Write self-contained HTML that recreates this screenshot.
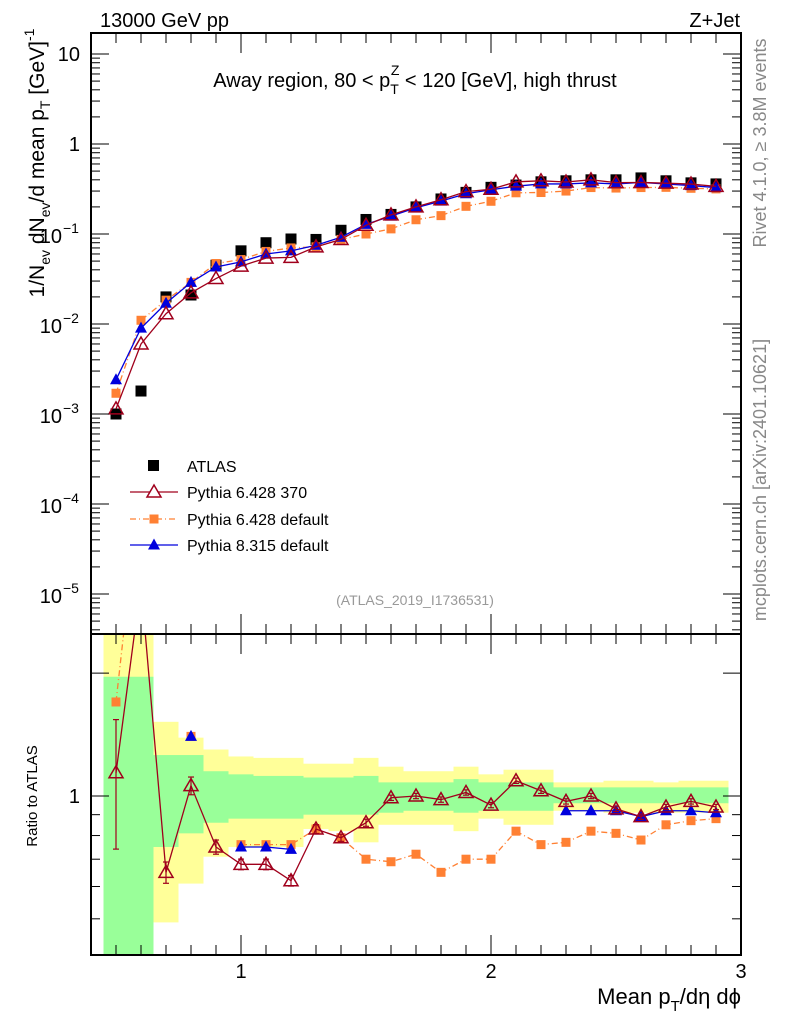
<!DOCTYPE html>
<html><head><meta charset="utf-8"><style>
html,body{margin:0;padding:0;background:#fff}
svg{display:block;font-family:"Liberation Sans",sans-serif}
</style></head><body>
<svg id="c" width="786" height="1024" viewBox="0 0 786 1024"></svg>
<script>
const xs=[0.5,0.6,0.7,0.8,0.9,1.0,1.1,1.2,1.3,1.4,1.5,1.6,1.7,1.8,1.9,2.0,2.1,2.2,2.3,2.4,2.5,2.6,2.7,2.8,2.9];
const atlas=[1e-3,1.8e-3,0.02,0.021,0.045,0.065,0.08,0.088,0.087,0.11,0.145,0.165,0.2,0.245,0.29,0.33,0.35,0.38,0.39,0.4,0.4,0.42,0.39,0.37,0.36];
const py6_370=[1.14e-3,6e-3,0.013,0.0222,0.032,0.044,0.054,0.055,0.072,0.087,0.125,0.163,0.2,0.24,0.296,0.314,0.38,0.39,0.378,0.4,0.372,0.374,0.367,0.359,0.338];
const py6_370_err=[0.35,0.1,0.06,0.05,0.04,0.03,0.03,0.03,0.025,0.02,0.02,0.015,0.015,0.015,0.015,0.015,0.015,0.015,0.015,0.015,0.015,0.015,0.015,0.015,0.015];
const py6_def=[1.7e-3,0.011,0.0184,0.029,0.047,0.052,0.064,0.07,0.072,0.087,0.10,0.114,0.144,0.16,0.203,0.231,0.287,0.289,0.30,0.328,0.324,0.328,0.33,0.322,0.317];
const py8_def=[2.4e-3,9e-3,0.017,0.029,0.043,0.049,0.06,0.065,0.075,0.092,0.128,0.158,0.196,0.232,0.28,0.31,0.34,0.36,0.36,0.37,0.36,0.374,0.36,0.345,0.328];
// ratio-panel values (null = not shown)
const ratio_py6_370=[1.14,3.3,0.65,1.06,0.75,0.68,0.68,0.62,0.83,0.79,0.86,0.99,1.0,0.98,1.02,0.95,1.09,1.03,0.97,1.0,0.93,0.89,0.94,0.97,0.94];
const ratio_py6_def=[1.7,6,null,1.4,null,0.76,0.76,0.76,0.83,0.79,0.70,0.69,0.72,0.65,0.70,0.70,0.82,0.76,0.77,0.82,0.81,0.78,0.85,0.87,0.88];
const ratio_py8_def=[2.6,5,null,1.4,null,0.75,0.75,0.74,null,null,null,null,null,null,null,null,null,null,0.92,0.92,0.92,0.89,0.92,0.92,0.91];
const binEdges=[0.45,0.65,0.75,0.85,0.95,1.05,1.15,1.25,1.35,1.45,1.55,1.65,1.75,1.85,1.95,2.05,2.15,2.25,2.35,2.45,2.55,2.65,2.75,2.85,2.95];
const greenLo=[0.3,0.75,0.81,0.86,0.88,0.88,0.88,0.9,0.9,0.9,0.91,0.92,0.92,0.91,0.92,0.92,0.92,0.96,0.96,0.96,0.96,0.96,0.96,0.96];
const greenHi=[1.96,1.26,1.26,1.15,1.13,1.12,1.12,1.11,1.11,1.12,1.08,1.08,1.08,1.10,1.08,1.08,1.08,1.05,1.05,1.05,1.05,1.05,1.05,1.05];
const yelLo=[0.3,0.49,0.61,0.71,0.75,0.75,0.75,0.83,0.82,0.77,0.85,0.85,0.85,0.82,0.88,0.85,0.85,0.92,0.92,0.91,0.91,0.91,0.91,0.91];
const yelHi=[3,1.52,1.39,1.30,1.25,1.24,1.24,1.2,1.2,1.24,1.18,1.15,1.15,1.18,1.13,1.16,1.16,1.08,1.08,1.09,1.09,1.08,1.09,1.09];
const yTicks=[10,1,0.1,0.01,0.001,1e-4,1e-5];
const yTickLabels=["10","1","10|−1","10|−2","10|−3","10|−4","10|−5"];
const xTicks=[1,2,3];

const NS="http://www.w3.org/2000/svg";
const svg=document.getElementById('c');
const L=91,R=741,T=33,MB=634,RB=955;
const X=v=>L+(v-0.4)*250;
const Y=v=>54-(Math.log10(v)-1)*90;
const RY=v=>796-Math.log10(v)*408;
function el(tag,at,parent){const e=document.createElementNS(NS,tag);for(const k in at)e.setAttribute(k,at[k]);(parent||svg).appendChild(e);return e;}
const defs=el('defs',{});
const cp1=el('clipPath',{id:'cm'},defs);el('rect',{x:L,y:T,width:R-L,height:MB-T},cp1);
const cp2=el('clipPath',{id:'cr'},defs);el('rect',{x:L,y:MB,width:R-L,height:RB-MB},cp2);

const gBands=el('g',{'clip-path':'url(#cr)'});


for(let i=0;i<greenLo.length;i++){
  const x0=X(binEdges[i]),x1=X(binEdges[i+1]);
  const y=el('rect',{x:x0,y:RY(yelHi[i]),width:x1-x0,height:RY(yelLo[i])-RY(yelHi[i]),fill:'#ffff99'},gBands);
  
  
  const g=el('rect',{x:x0,y:RY(greenHi[i]),width:x1-x0,height:RY(greenLo[i])-RY(greenHi[i]),fill:'#99ff99'},gBands);
  
  
}

function marker(g,type,x,y,color){
  if(type==='sq')return el('rect',{x:x-5.5,y:y-5.5,width:11,height:11,fill:color},g);
  if(type==='osq')return el('rect',{x:x-4.5,y:y-4.5,width:9,height:9,fill:color},g);
  if(type==='tri')return el('polygon',{points:`${x},${y-6.5} ${x-6},${y+4.5} ${x+6},${y+4.5}`,fill:color},g);
  if(type==='otri')return el('polygon',{points:`${x},${y-7} ${x-7},${y+5} ${x+7},${y+5}`,fill:'none',stroke:color,'stroke-width':1.5},g);
}
function series(name,vals,color,type,dash,clip,yf,errs){
  const g=el('g',{'clip-path':clip});
  
  
  if(dash!==null){
    let seg=[];
    const flush=()=>{if(seg.length>1){const ln=el('polyline',{points:seg.join(' '),fill:'none',stroke:color,'stroke-width':1.3},g);if(dash)ln.setAttribute('stroke-dasharray',dash);}seg=[];};
    xs.forEach((x,i)=>{if(vals[i]==null)flush();else seg.push(X(x)+','+yf(vals[i]));});
    flush();
  }
  xs.forEach((x,i)=>{
    if(vals[i]==null)return;
    if(errs){const y0=yf(vals[i]*(1+errs[i])),y1=yf(vals[i]*(1-errs[i]));
      el('line',{x1:X(x),x2:X(x),y1:y0,y2:y1,stroke:color,'stroke-width':1.2},g);
      el('line',{x1:X(x)-3,x2:X(x)+3,y1:y0,y2:y0,stroke:color,'stroke-width':1.2},g);
      el('line',{x1:X(x)-3,x2:X(x)+3,y1:y1,y2:y1,stroke:color,'stroke-width':1.2},g);}
    const m=marker(g,type,X(x),yf(vals[i]),color);
    
    
  });
}
series('ratio-pythia6-default',ratio_py6_def,'#ff8033','osq','6,3,1,3','url(#cr)',RY,null);
series('ratio-pythia8',ratio_py8_def,'#0000dd','tri','','url(#cr)',RY,null);
series('ratio-pythia6-370',ratio_py6_370,'#a0001c','otri','','url(#cr)',RY,py6_370_err);
series('atlas-data',atlas,'#000','sq',null,'url(#cm)',Y,null);
series('pythia6-default',py6_def,'#ff8033','osq','6,3,1,3','url(#cm)',Y,null);
series('pythia8-default',py8_def,'#0000dd','tri','','url(#cm)',Y,null);
series('pythia6-370',py6_370,'#a0001c','otri','','url(#cm)',Y,null);

el('rect',{x:L,y:T,width:R-L,height:MB-T,fill:'none',stroke:'#000','stroke-width':2,});
el('rect',{x:L,y:MB,width:R-L,height:RB-MB,fill:'none',stroke:'#000','stroke-width':2,});
const gy=el('g',{});
for(let d=-6;d<=1;d++){for(let k=1;k<10;k++){const v=k*Math.pow(10,d);const y=Y(v);if(y<T||y>MB)continue;
  const len=k===1?18:9;el('line',{x1:L,x2:L+len,y1:y,y2:y,stroke:'#000','stroke-width':1},gy);
  el('line',{x1:R,x2:R-len,y1:y,y2:y,stroke:'#000','stroke-width':1},gy);}}
yTicks.forEach((v,i)=>{const p=yTickLabels[i].split('|');const y=Y(v);
  if(p.length===1){el('text',{x:80,y:y+7,'text-anchor':'end','font-size':20},gy).textContent=p[0];}
  else{el('text',{x:62,y:y+9,'text-anchor':'end','font-size':20},gy).textContent=p[0];
    el('text',{x:63,y:y-1,'font-size':14},gy).textContent=p[1];}});
const gr=el('g',{});
[0.5,0.6,0.7,0.8,0.9,1,2].forEach(v=>{const y=RY(v);const len=(v===1||v===2)?18:9;
  el('line',{x1:L,x2:L+len,y1:y,y2:y,stroke:'#000'},gr);el('line',{x1:R,x2:R-len,y1:y,y2:y,stroke:'#000'},gr);});
el('text',{x:80,y:803,'text-anchor':'end','font-size':20},gr).textContent='1';
const gx=el('g',{});
for(let v=0.5;v<=2.95;v+=0.1){const x=X(v);const maj=Math.abs(v-Math.round(v))<0.01;const len=maj?20:10;
  [T,MB].forEach(y0=>el('line',{x1:x,x2:x,y1:y0,y2:y0+len,stroke:'#000'},gx));
  [MB,RB].forEach(y0=>el('line',{x1:x,x2:x,y1:y0,y2:y0-len,stroke:'#000'},gx));}
xTicks.forEach(v=>{el('text',{x:X(v),y:978,'text-anchor':'middle','font-size':20},gx).textContent=String(v);});
</script>
<svg width="786" height="1024" style="position:absolute;left:0;top:0;font-family:'Liberation Sans',sans-serif">
<text x="100" y="27" font-size="20">13000 GeV pp</text>
<text x="740" y="27" font-size="20" text-anchor="end">Z+Jet</text>
<text x="415" y="87" font-size="20" text-anchor="middle">Away region, 80 &lt; p<tspan font-size="14" dy="7">T</tspan><tspan font-size="14" dx="-8" dy="-19">Z</tspan><tspan dy="12"> &lt; 120 [GeV], high thrust</tspan></text>
<text transform="translate(44,163) rotate(-90)" font-size="21" text-anchor="middle">1/N<tspan font-size="14" dy="6">ev</tspan><tspan dy="-6"> dN</tspan><tspan font-size="14" dy="6">ev</tspan><tspan dy="-6">/d mean p</tspan><tspan font-size="14" dy="6">T</tspan><tspan dy="-6"> [GeV]</tspan><tspan font-size="14" dy="-10">-1</tspan></text>
<text transform="translate(37,796) rotate(-90)" font-size="15" text-anchor="middle">Ratio to ATLAS</text>
<text x="741" y="1004" font-size="22" text-anchor="end">Mean p<tspan font-size="15" dy="7">T</tspan><tspan dy="-7">/dη dϕ</tspan></text>
<text transform="translate(766,143) rotate(-90)" font-size="18" fill="#888" text-anchor="middle">Rivet 4.1.0, ≥ 3.8M events</text>
<text transform="translate(766,480) rotate(-90)" font-size="18" fill="#888" text-anchor="middle">mcplots.cern.ch [arXiv:2401.10621]</text>
<text x="415" y="605" font-size="14" fill="#999" text-anchor="middle">(ATLAS_2019_I1736531)</text>
<g font-size="16">
<rect x="148" y="460" width="11" height="11" fill="#000"/>
<text x="187" y="472">ATLAS</text>
<line x1="130" x2="178" y1="492" y2="492" stroke="#a0001c" stroke-width="1.3"/>
<polygon points="154,485 147,497 161,497" fill="#fff" stroke="#a0001c" stroke-width="1.5"/>
<text x="187" y="498">Pythia 6.428 370</text>
<line x1="130" x2="178" y1="519" y2="519" stroke="#ff8033" stroke-width="1.3" stroke-dasharray="6,3,1,3"/>
<rect x="149.5" y="514.5" width="9" height="9" fill="#ff8033"/>
<text x="187" y="525">Pythia 6.428 default</text>
<line x1="130" x2="178" y1="545" y2="545" stroke="#0000dd" stroke-width="1.3"/>
<polygon points="154,538.5 148,549.5 160,549.5" fill="#0000dd"/>
<text x="187" y="551">Pythia 8.315 default</text>
</g>
</svg>
</body></html>
